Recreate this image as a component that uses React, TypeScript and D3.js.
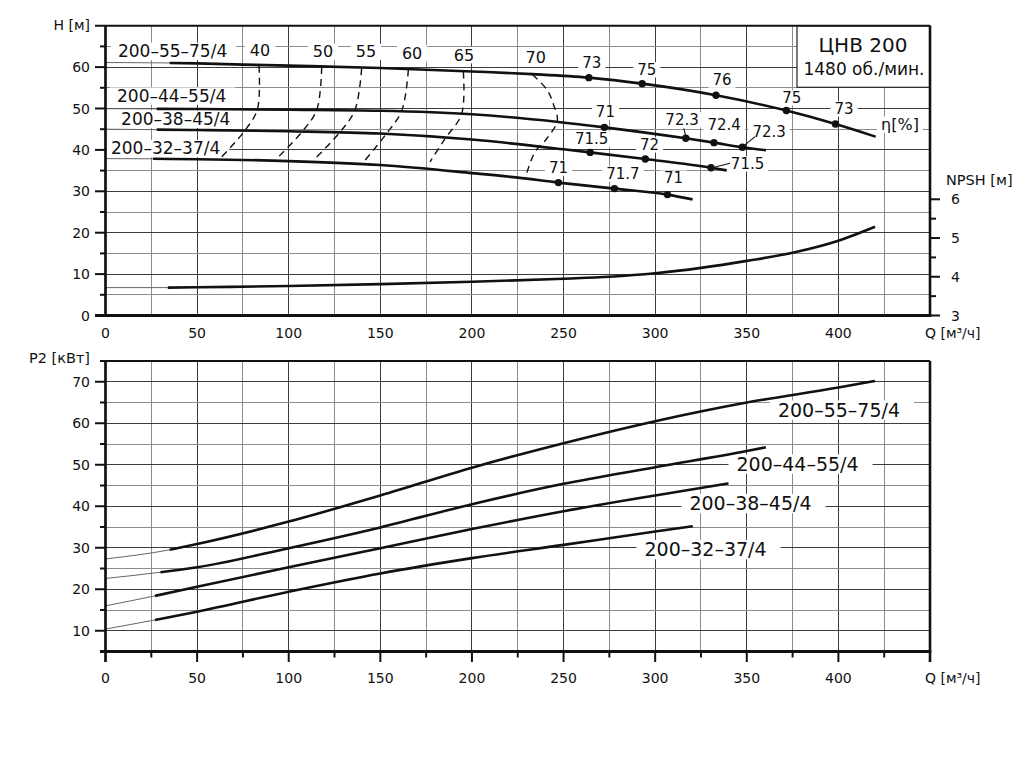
import React from 'react';
import * as d3 from 'd3';

type Pt = [number, number];
type EffPt = [number, number, string];

// ---------- DATA ----------
const pumpNames = ['200–55–75/4', '200–44–55/4', '200–38–45/4', '200–32–37/4'];

// Head H [м] vs Q [м³/ч]
const head_55_75: Pt[] = [[0, 61.1], [35, 61.0], [50, 60.9], [75, 60.6], [100, 60.35], [150, 59.8], [200, 58.95], [233, 58.3], [263.8, 57.45], [292.9, 56.0], [333.2, 53.2], [371.6, 49.5], [398.4, 46.25], [420.3, 43.2]];
const head_44_55: Pt[] = [[0, 49.95], [28, 49.92], [50, 49.88], [100, 49.7], [150, 49.45], [200, 48.6], [246, 46.8], [272.3, 45.45], [316.7, 42.8], [332.1, 41.75], [347.6, 40.65], [360.5, 39.9]];
const head_38_45: Pt[] = [[0, 45.0], [28, 44.9], [50, 44.8], [100, 44.5], [150, 43.95], [200, 42.5], [250, 40.15], [264.5, 39.4], [294.6, 37.8], [330.5, 35.7], [339, 35.05]];
const head_32_37: Pt[] = [[0, 37.9], [26, 37.85], [50, 37.75], [100, 37.3], [150, 36.35], [200, 34.4], [225, 33.3], [247.2, 32.1], [277.8, 30.65], [306.7, 29.2], [320.4, 28.05]];

// Efficiency points on the head curves [Q, H, η]
const eff_55_75: EffPt[] = [[263.8, 57.45, '73'], [292.9, 56.0, '75'], [333.2, 53.2, '76'], [371.6, 49.5, '75'], [398.4, 46.25, '73']];
const eff_44_55: EffPt[] = [[272.3, 45.45, '71'], [316.7, 42.8, '72.3'], [332.1, 41.75, '72.4'], [347.6, 40.65, '72.3']];
const eff_38_45: EffPt[] = [[264.5, 39.4, '71.5'], [294.6, 37.8, '72'], [330.5, 35.7, '71.5']];
const eff_32_37: EffPt[] = [[247.2, 32.1, '71'], [277.8, 30.65, '71.7'], [306.7, 29.2, '71']];

// Iso-efficiency lines [Q, H]
const isoLevels = ['40', '50', '55', '60', '65', '70'];
const iso40: Pt[] = [[83.8, 60.3], [82.9, 49.8], [76.1, 44.7], [63.4, 38.3]];
const iso50: Pt[] = [[118.0, 60.0], [115.3, 49.7], [107.1, 44.3], [93.4, 37.9]];
const iso55: Pt[] = [[139.8, 59.7], [136.2, 49.7], [128.0, 44.3], [114.4, 37.9]];
const iso60: Pt[] = [[165.3, 59.4], [161.7, 49.5], [152.6, 43.5], [141.6, 37.5]];
const iso65: Pt[] = [[195.3, 58.9], [194.4, 48.7], [185.3, 42.7], [177.1, 37.1]];
const iso70: Pt[] = [[233.0, 58.2], [241, 54.5], [244.4, 51.1], [246.6, 47.1], [240.8, 42.7], [234.4, 39.5], [229.0, 33.1]];

// NPSH [м] vs Q
const npsh: Pt[] = [[0, 3.72], [34, 3.72], [50, 3.73], [100, 3.76], [150, 3.81], [200, 3.87], [250, 3.95], [275, 4.0], [300, 4.09], [325, 4.23], [350, 4.41], [375, 4.62], [400, 4.93], [420, 5.29]];

// Power P2 [кВт] vs Q
const power_55_75: Pt[] = [[0, 27.3], [35, 29.5], [50, 30.9], [100, 36.3], [150, 42.6], [200, 49.3], [250, 55.2], [300, 60.5], [350, 65.0], [400, 68.6], [420, 70.2]];
const power_44_55: Pt[] = [[0, 22.6], [30, 24.1], [50, 25.3], [100, 29.9], [150, 34.9], [200, 40.5], [250, 45.4], [300, 49.4], [350, 53.3], [360.4, 54.2]];
const power_38_45: Pt[] = [[0, 16.0], [27, 18.4], [50, 20.6], [100, 25.3], [150, 29.9], [200, 34.5], [250, 38.8], [300, 42.6], [340, 45.5]];
const power_32_37: Pt[] = [[0, 10.4], [27, 12.6], [50, 14.6], [100, 19.4], [150, 23.8], [200, 27.5], [250, 30.7], [300, 33.9], [320.5, 35.2]];

// Q where the solid (working) range begins
const headStart = [35, 28, 28, 26];
const powerStart = [35, 30, 27, 27];
const npshStart = 34;

// Tick labels
const qTickLabels = ['0', '50', '100', '150', '200', '250', '300', '350', '400'];
const hTickLabels = ['0', '10', '20', '30', '40', '50', '60'];
const npshTickLabels = ['3', '4', '5', '6'];
const pTickLabels = ['10', '20', '30', '40', '50', '60', '70'];

const titleText = 'ЦНВ 200';
const speedText = '1480 об./мин.';

// ---------- LAYOUT ----------
const W = 1026, HGT = 768;
const FONT = '"DejaVu Sans", Verdana, sans-serif';
const x = d3.scaleLinear().domain([0, 450]).range([105.5, 930]);
const yH = d3.scaleLinear().domain([0, 70]).range([315.5, 25.7]);
const yN = d3.scaleLinear().domain([3, 6]).range([315.5, 199.3]);
const yP = d3.scaleLinear().domain([5, 75]).range([651.5, 361]);

let _ctx: CanvasRenderingContext2D | null = null;
function textWidth(t: string, size: number): number {
  if (!_ctx) _ctx = document.createElement('canvas').getContext('2d');
  if (!_ctx) return t.length * size * 0.6;
  _ctx.font = `${size}px "DejaVu Sans"`;
  return _ctx.measureText(t).width;
}

type Label = { x: number; y: number; text: string; size: number; anchor: 'start' | 'middle' | 'end'; bg?: boolean; padL?: number; padR?: number };

export default function App() {
  const heads = [head_55_75, head_44_55, head_38_45, head_32_37];
  const effs = [eff_55_75, eff_44_55, eff_38_45, eff_32_37];
  const powers = [power_55_75, power_44_55, power_38_45, power_32_37];
  const isos = [iso40, iso50, iso55, iso60, iso65, iso70];

  const lineH = d3.line<Pt>().x(d => x(d[0])).y(d => yH(d[1])).curve(d3.curveMonotoneX);
  const lineP = d3.line<Pt>().x(d => x(d[0])).y(d => yP(d[1])).curve(d3.curveMonotoneX);
  const lineN = d3.line<Pt>().x(d => x(d[0])).y(d => yN(d[1])).curve(d3.curveMonotoneX);
  const lineIso = d3.line<Pt>().x(d => x(d[0])).y(d => yH(d[1])).curve(d3.curveCatmullRom.alpha(0.5));

  // label layout offsets
  const effOffsets: Pt[][] = [
    [[3, -10], [4.6, -8.7], [6, -10], [5.5, -7.6], [8.6, -10]],
    [[1, -10], [-3.7, -13.3], [10.2, -12.7], [26.7, -10.6]],
    [[1.5, -8.3], [4.3, -9], [36.5, 1.3]],
    [[0, -9.4], [8.4, -9.4], [6, -11.4]],
  ];
  const leaders: { c: number; i: number; from: Pt; to: Pt }[] = [
    { c: 1, i: 1, from: [-2, -10], to: [0, -2] },
    { c: 1, i: 3, from: [12.7, -10.6], to: [1.7, -1.6] },
    { c: 2, i: 2, from: [19, -4.4], to: [4, -0.7] },
  ];
  const isoLabelOffsets: Pt[] = [[1, -9.9], [1.3, -9.8], [4.3, -11.1], [3.7, -10.6], [0.7, -11], [3.3, -11.9]];
  const headLabelPos: Pt[] = [[6.8, 62.4], [6.3, 51.6], [8.5, 46.0], [3.0, 38.9]];
  const powerLabelPos: Pt[] = [[400.3, 61.6], [377.7, 48.6], [352, 39.1], [327.5, 28.0]];

  const labels: Label[] = [];
  heads.forEach((_, c) => {
    labels.push({ x: x(headLabelPos[c][0]), y: yH(headLabelPos[c][1]), text: pumpNames[c], size: 17, anchor: 'start', bg: true, padL: 7, padR: 9 });
  });
  effs.forEach((arr, c) => arr.forEach((p, i) => {
    const o = effOffsets[c][i];
    labels.push({ x: x(p[0]) + o[0], y: yH(p[1]) + o[1], text: p[2], size: 15, anchor: 'middle', bg: true, padL: 4, padR: 4 });
  }));
  isos.forEach((pts, k) => {
    const o = isoLabelOffsets[k];
    labels.push({ x: x(pts[0][0]) + o[0], y: yH(pts[0][1]) + o[1], text: isoLevels[k], size: 16, anchor: 'middle', bg: true, padL: 5, padR: 5 });
  });
  labels.push({ x: 900, y: 130, text: 'η[%]', size: 16, anchor: 'middle', bg: true, padL: 4, padR: 4 });
  powers.forEach((_, c) => {
    labels.push({ x: x(powerLabelPos[c][0]), y: yP(powerLabelPos[c][1]), text: pumpNames[c], size: 19, anchor: 'middle', bg: true, padL: 8, padR: 14 });
  });

  const bgRect = (l: Label, k: number) => {
    const w = textWidth(l.text, l.size);
    const x0 = l.anchor === 'start' ? l.x : l.anchor === 'middle' ? l.x - w / 2 : l.x - w;
    return <rect key={'bg' + k} x={x0 - (l.padL ?? 4)} y={l.y - l.size * 0.85} width={w + (l.padL ?? 4) + (l.padR ?? 4)} height={l.size * 1.02} fill="#fff" />;
  };

  const qGrid = d3.range(25, 450, 25);
  const hGrid = d3.range(5, 70, 5);
  const pGrid = d3.range(10, 75, 5);
  const major = '#3c3c3c', minor = '#8c8c8c';

  return (
    <svg width={W} height={HGT} style={{ position: 'absolute', left: 0, top: 0, background: '#fff' }} fontFamily={FONT}>
      <rect x={0} y={0} width={W} height={HGT} fill="#fff" />
      {/* grids */}
      <g shapeRendering="crispEdges">
        {qGrid.map(q => (
          <g key={'qg' + q}>
            <line x1={x(q)} x2={x(q)} y1={yH(70)} y2={yH(0)} stroke={q % 50 === 0 ? major : minor} strokeWidth={1} />
            <line x1={x(q)} x2={x(q)} y1={yP(75)} y2={yP(5)} stroke={q % 50 === 0 ? major : minor} strokeWidth={1} />
          </g>
        ))}
        {hGrid.map(h => <line key={'hg' + h} x1={x(0)} x2={x(450)} y1={yH(h)} y2={yH(h)} stroke={h % 10 === 0 ? major : minor} strokeWidth={1} />)}
        {pGrid.map(p => <line key={'pg' + p} x1={x(0)} x2={x(450)} y1={yP(p)} y2={yP(p)} stroke={p % 10 === 0 ? major : minor} strokeWidth={1} />)}
      </g>
      {/* label backgrounds */}
      <g>{labels.filter(l => l.bg).map(bgRect)}</g>
      {/* title box */}
      <rect x={797} y={yH(70)} width={x(450) - 797} height={61.6} fill="#fff" stroke="#222" strokeWidth={1.2} />
      <text x={863} y={51.7} textAnchor="middle" fontSize={20} fill="#111">{titleText}</text>
      <text x={864} y={75} textAnchor="middle" fontSize={17} fill="#111">{speedText}</text>

      {/* head curves */}
      {heads.map((d, c) => (
        <g key={'h' + c}>
          <path d={lineH(d) ?? ''} fill="none" stroke="#666" strokeWidth={1} />
          <path d={lineH(d.filter(p => p[0] >= headStart[c])) ?? ''} fill="none" stroke="#111" strokeWidth={2.6} />
        </g>
      ))}
      {/* iso-efficiency */}
      {isos.map((d, k) => <path key={'iso' + k} d={lineIso(d) ?? ''} fill="none" stroke="#111" strokeWidth={1.4} strokeDasharray="7 5" />)}
      {/* NPSH */}
      <path d={lineN(npsh) ?? ''} fill="none" stroke="#666" strokeWidth={1} />
      <path d={lineN(npsh.filter(p => p[0] >= npshStart)) ?? ''} fill="none" stroke="#111" strokeWidth={2.6} />
      {/* power */}
      {powers.map((d, c) => (
        <g key={'p' + c}>
          <path d={lineP(d) ?? ''} fill="none" stroke="#666" strokeWidth={1} />
          <path d={lineP(d.filter(p => p[0] >= powerStart[c])) ?? ''} fill="none" stroke="#111" strokeWidth={2.6} />
        </g>
      ))}
      {/* dots */}
      {effs.map((arr, c) => arr.map((p, i) => <circle key={'d' + c + i} cx={x(p[0])} cy={yH(p[1])} r={3.7} fill="#111" />))}
      {leaders.map((l, k) => {
        const p = effs[l.c][l.i];
        const cx = x(p[0]), cy = yH(p[1]);
        return <line key={'ld' + k} x1={cx + l.from[0]} y1={cy + l.from[1]} x2={cx + l.to[0]} y2={cy + l.to[1]} stroke="#111" strokeWidth={1.1} />;
      })}

      {/* frames top */}
      <g stroke="#111" fill="none">
        <line x1={95} x2={x(450)} y1={yH(70)} y2={yH(70)} strokeWidth={2} />
        <line x1={x(450)} x2={x(450)} y1={yH(70)} y2={yH(0)} strokeWidth={2.6} />
        <line x1={x(0)} x2={x(0)} y1={yH(70)} y2={yH(0) + 1.3} strokeWidth={2.7} />
        <line x1={95} x2={x(450) + 1.3} y1={yH(0)} y2={yH(0)} strokeWidth={2.8} />
        {d3.range(10, 70, 10).map(h => <line key={'ht' + h} x1={95} x2={x(0)} y1={yH(h)} y2={yH(h)} strokeWidth={2} />)}
        {d3.range(5, 70, 10).map(h => <line key={'hm' + h} x1={100} x2={x(0)} y1={yH(h)} y2={yH(h)} strokeWidth={2} />)}
        {[3, 4, 5, 6].map(n => <line key={'nt' + n} x1={x(450)} x2={x(450) + 10} y1={yN(n)} y2={yN(n)} strokeWidth={2} />)}
        {[3.5, 4.5, 5.5].map(n => <line key={'nm' + n} x1={x(450)} x2={x(450) + 6} y1={yN(n)} y2={yN(n)} strokeWidth={2} />)}
      </g>
      {/* frames bottom */}
      <g stroke="#111" fill="none">
        <line x1={100} x2={x(450)} y1={yP(75)} y2={yP(75)} strokeWidth={2} />
        <line x1={x(450)} x2={x(450)} y1={yP(75)} y2={yP(5) + 10.5} strokeWidth={2.6} />
        <line x1={x(0)} x2={x(0)} y1={yP(75)} y2={yP(5) + 10.5} strokeWidth={2.7} />
        <line x1={100} x2={x(450) + 1.3} y1={yP(5)} y2={yP(5)} strokeWidth={2.8} />
        {d3.range(10, 75, 10).map(p => <line key={'pt' + p} x1={95} x2={x(0)} y1={yP(p)} y2={yP(p)} strokeWidth={2} />)}
        {d3.range(15, 75, 10).map(p => <line key={'pm' + p} x1={100} x2={x(0)} y1={yP(p)} y2={yP(p)} strokeWidth={2} />)}
        {d3.range(50, 451, 50).map(q => <line key={'qt' + q} x1={x(q)} x2={x(q)} y1={yP(5)} y2={yP(5) + 10.5} strokeWidth={2} />)}
        {d3.range(25, 450, 50).map(q => <line key={'qm' + q} x1={x(q)} x2={x(q)} y1={yP(5)} y2={yP(5) + 6} strokeWidth={2} />)}
      </g>

      {/* tick labels */}
      <g fontSize={14} fill="#111">
        {qTickLabels.map(t => <text key={'qx' + t} x={x(+t)} y={338} textAnchor="middle">{t}</text>)}
        {qTickLabels.map(t => <text key={'qb' + t} x={x(+t)} y={683} textAnchor="middle">{t}</text>)}
        {hTickLabels.map(t => <text key={'hy' + t} x={90} y={yH(+t) + 5} textAnchor="end">{t}</text>)}
        {npshTickLabels.map(t => <text key={'ny' + t} x={951} y={yN(+t) + 5} textAnchor="start">{t}</text>)}
        {pTickLabels.map(t => <text key={'py' + t} x={90} y={yP(+t) + 5} textAnchor="end">{t}</text>)}
        <text x={90} y={30} textAnchor="end">H [м]</text>
        <text x={925} y={338} textAnchor="start">Q [м³/ч]</text>
        <text x={925} y={683} textAnchor="start">Q [м³/ч]</text>
        <text x={946} y={185} textAnchor="start" fontSize={14.5}>NPSH [м]</text>
        <text x={90} y={363} textAnchor="end" fontSize={14.5}>P2 [кВт]</text>
      </g>
      {/* in-plot labels */}
      <g fill="#111">
        {labels.map((l, k) => <text key={'t' + k} x={l.x} y={l.y} fontSize={l.size} textAnchor={l.anchor}>{l.text}</text>)}
      </g>
    </svg>
  );
}
